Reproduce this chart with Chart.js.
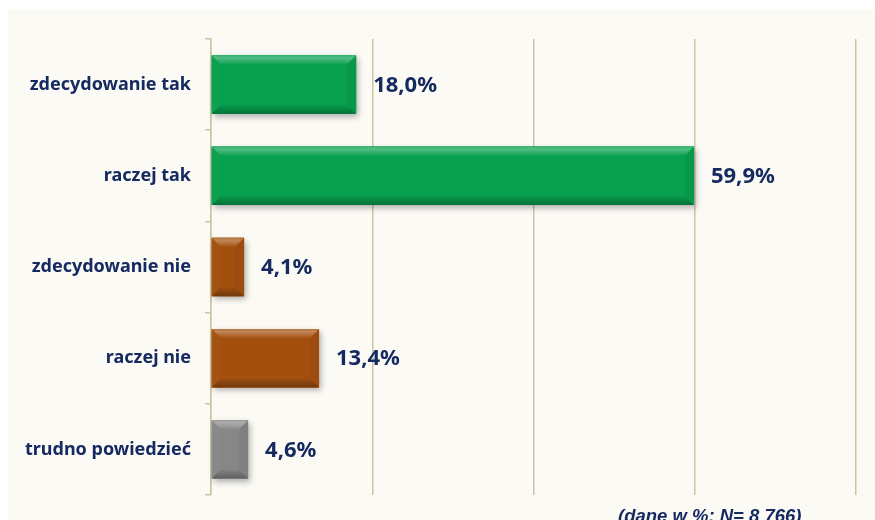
<!DOCTYPE html>
<html>
<head>
<meta charset="utf-8">
<script src="https://cdn.jsdelivr.net/npm/chart.js@4.4.1/dist/chart.umd.min.js"></script>
<style>
  body { margin: 0; background: #ffffff; }
  #wrap { position: relative; width: 875px; height: 520px; overflow: hidden; }
  #panel { position: absolute; left: 8px; top: 9px; right: 0; bottom: 0; background: #fbfaf5; }
  #canvas { position: absolute; left: 0; top: 0; }
</style>
</head>
<body>
<div id="wrap">
  <div id="panel"></div>
  <canvas id="canvas" width="875" height="520"></canvas>
</div>
<script>
// data
const categories = ['zdecydowanie tak', 'raczej tak', 'zdecydowanie nie', 'raczej nie', 'trudno powiedzieć'];
const values = [18.0, 59.9, 4.1, 13.4, 4.6];
const barColors = ['#07a04e', '#07a04e', '#a3500f', '#a3500f', '#878787'];
const xMax = 80;
const xStep = 20;
const note = '(dane w %; N= 8 766)';

const navy = '#162a62';
const gridColor = '#cdc59f';

// mix a hex colour with white (amt > 0) or black (amt < 0)
function shade(hex, amt) {
    const n = parseInt(hex.slice(1), 16);
    let r = (n >> 16) & 255, g = (n >> 8) & 255, b = n & 255;
    const t = amt > 0 ? 255 : 0, a = Math.abs(amt);
    r = Math.round(r + (t - r) * a);
    g = Math.round(g + (t - g) * a);
    b = Math.round(b + (t - b) * a);
    return 'rgb(' + r + ',' + g + ',' + b + ')';
}

function barBox(el) {
    const p = el.getProps(['x', 'y', 'base', 'height'], true);
    return {
        l: Math.min(p.base, p.x), r: Math.max(p.base, p.x),
        t: p.y - p.height / 2, b: p.y + p.height / 2
    };
}

function poly(ctx, pts, fill) {
    ctx.beginPath();
    ctx.moveTo(pts[0][0], pts[0][1]);
    for (let i = 1; i < pts.length; i++) ctx.lineTo(pts[i][0], pts[i][1]);
    ctx.closePath();
    ctx.fillStyle = fill;
    ctx.fill();
}

// drop shadow under the bars
const shadowPlugin = {
    id: 'shadow',
    beforeDatasetsDraw(chart) {
        const ctx = chart.ctx;
        chart.getDatasetMeta(0).data.forEach((el, i) => {
            const bx = barBox(el);
            ctx.save();
            ctx.shadowColor = 'rgba(0,0,0,0.3)';
            ctx.shadowBlur = 6;
            ctx.shadowOffsetX = 2;
            ctx.shadowOffsetY = 3;
            ctx.fillStyle = barColors[i];
            ctx.fillRect(bx.l, bx.t, bx.r - bx.l, bx.b - bx.t);
            ctx.restore();
        });
    }
};

// bevelled edges + value labels
const bevelPlugin = {
    id: 'bevel',
    afterDatasetsDraw(chart) {
        const ctx = chart.ctx;
        chart.getDatasetMeta(0).data.forEach((el, i) => {
            const c = barColors[i];
            const bx = barBox(el);
            const bv = Math.min(9, (bx.r - bx.l) / 2, (bx.b - bx.t) / 2);
            ctx.save();
            poly(ctx, [[bx.l, bx.t], [bx.l + bv, bx.t + bv], [bx.l + bv, bx.b - bv], [bx.l, bx.b]], shade(c, 0.015));
            poly(ctx, [[bx.r, bx.t], [bx.r, bx.b], [bx.r - bv, bx.b - bv], [bx.r - bv, bx.t + bv]], shade(c, -0.05));
            let g = ctx.createLinearGradient(0, bx.t, 0, bx.t + bv);
            g.addColorStop(0, shade(c, 0.2));
            g.addColorStop(0.3, shade(c, 0.3));
            g.addColorStop(1, shade(c, 0.03));
            poly(ctx, [[bx.l, bx.t], [bx.r, bx.t], [bx.r - bv, bx.t + bv], [bx.l + bv, bx.t + bv]], g);
            g = ctx.createLinearGradient(0, bx.b - bv, 0, bx.b);
            g.addColorStop(0, shade(c, -0.03));
            g.addColorStop(1, shade(c, -0.3));
            poly(ctx, [[bx.l, bx.b], [bx.l + bv, bx.b - bv], [bx.r - bv, bx.b - bv], [bx.r, bx.b]], g);

            ctx.fillStyle = navy;
            ctx.font = 'bold 22px "Noto Sans"';
            ctx.textAlign = 'left';
            ctx.textBaseline = 'middle';
            ctx.fillText(values[i].toFixed(1).replace('.', ',') + '%', bx.r + 17, (bx.t + bx.b) / 2 + 1);
            ctx.restore();
        });
    },
    afterDraw(chart) {
        const ctx = chart.ctx;
        ctx.save();
        ctx.fillStyle = navy;
        ctx.font = 'italic bold 18.5px "Liberation Sans"';
        ctx.textAlign = 'left';
        ctx.textBaseline = 'alphabetic';
        ctx.fillText(note, 618, 522);
        ctx.restore();
    }
};

const ctx = document.getElementById('canvas').getContext('2d');
const myChart = new Chart(ctx, {
    type: 'bar',
    data: {
        labels: categories,
        datasets: [{
            data: values,
            backgroundColor: barColors,
            borderWidth: 0,
            categoryPercentage: 1,
            barPercentage: 0.64
        }]
    },
    options: {
        indexAxis: 'y',
        responsive: false,
        animation: false,
        layout: { padding: { top: 39, right: 19, bottom: 25, left: 0 } },
        plugins: {
            legend: { display: false },
            tooltip: { enabled: false }
        },
        scales: {
            x: {
                min: 0,
                max: xMax,
                ticks: { display: false, stepSize: xStep },
                grid: { color: gridColor, lineWidth: 1.5, drawTicks: false },
                border: { display: false }
            },
            y: {
                afterFit: function (scale) { scale.width = 211; },
                ticks: {
                    color: navy,
                    padding: 14,
                    font: { family: '"Noto Sans"', size: 18, weight: 'bold' }
                },
                grid: {
                    drawOnChartArea: false,
                    drawTicks: true,
                    tickLength: 6,
                    color: gridColor,
                    lineWidth: 1.5,
                    offset: true
                },
                border: { color: gridColor, width: 1.5 }
            }
        }
    },
    plugins: [shadowPlugin, bevelPlugin]
});
</script>
</body>
</html>
